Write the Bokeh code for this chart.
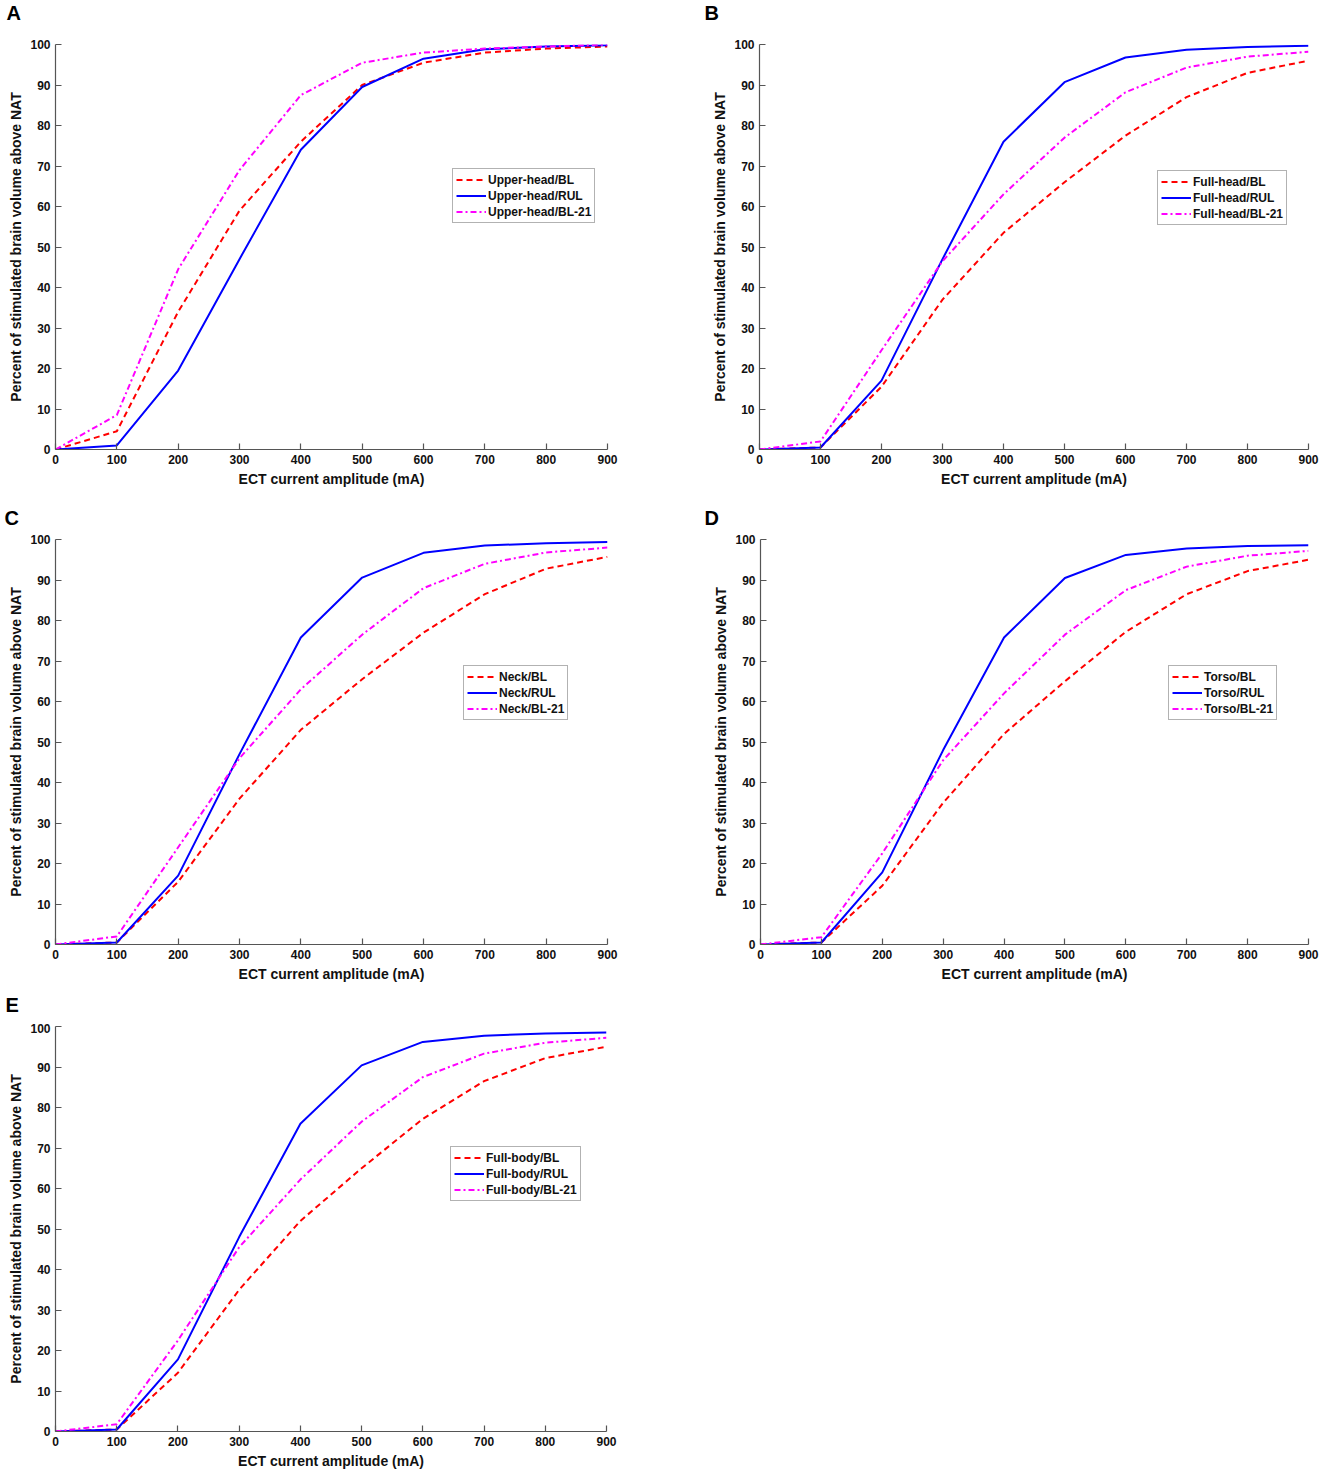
from bokeh.plotting import figure
from bokeh.models import Range1d, FixedTicker, Legend, LegendItem, Label
from bokeh.layouts import column, row
from bokeh.embed import file_html
from bokeh.resources import INLINE

current_mA = [0, 100, 200, 300, 400, 500, 600, 700, 800, 900]

# Panel A: Upper-head
upper_bl = [0, 4.5, 34, 59, 76, 90, 95.5, 98, 99, 99.5]
upper_rul = [0, 1.0, 19.5, 47, 74, 89.5, 96.5, 98.8, 99.5, 99.8]
upper_bl21 = [0, 8.5, 44.5, 69, 87.5, 95.5, 98, 99, 99.5, 100]

# Panel B: Full-head
fullhead_bl = [0, 0.5, 15.5, 37, 53.5, 66, 77.5, 87, 93, 96]
fullhead_rul = [0, 0.5, 17, 47, 76, 90.7, 96.8, 98.7, 99.4, 99.7]
fullhead_bl21 = [0, 2, 24.5, 46.5, 63, 77, 88.2, 94.3, 97, 98.2]

# Panel C: Neck
neck_bl = [0, 0.5, 15.5, 36, 53, 65.5, 77, 86.5, 92.8, 95.7]
neck_rul = [0, 0.5, 17, 47, 75.8, 90.6, 96.7, 98.5, 99.1, 99.4]
neck_bl21 = [0, 2, 24, 46, 63, 76.5, 88, 94, 96.8, 98]

# Panel D: Torso
torso_bl = [0, 0.5, 14.5, 35, 52, 65, 77.2, 86.5, 92.2, 95]
torso_rul = [0, 0.5, 17.8, 48, 75.8, 90.5, 96.2, 97.8, 98.4, 98.6]
torso_bl21 = [0, 1.8, 22.5, 45.5, 62, 76.5, 87.5, 93.3, 96, 97.2]

# Panel E: Full-body
body_bl = [0, 0.5, 14.5, 35, 52, 65, 77.2, 86.5, 92.2, 95]
body_rul = [0, 0.5, 17.8, 48, 76, 90.4, 96.2, 97.7, 98.3, 98.5]
body_bl21 = [0, 1.8, 22.5, 45.5, 62.2, 76.5, 87.5, 93.3, 96, 97.2]

x_ticks = [0, 100, 200, 300, 400, 500, 600, 700, 800, 900]
y_ticks = [0, 10, 20, 30, 40, 50, 60, 70, 80, 90, 100]

FONT = "Liberation Sans"
STRIP_H = 30


def letter_strip(letter, width, lx, ltop):
    s = figure(width=width, height=STRIP_H, output_backend="svg", toolbar_location=None,
               x_range=Range1d(0, width), y_range=Range1d(0, STRIP_H),
               x_axis_location=None, y_axis_location=None,
               min_border_left=0, min_border_right=0, min_border_top=0, min_border_bottom=0,
               background_fill_color="white", border_fill_color="white")
    s.outline_line_color = None
    s.grid.visible = False
    s.add_layout(Label(x=lx, y=STRIP_H - ltop, text=letter, text_font=FONT,
                       text_font_size="20px", text_font_style="bold",
                       text_color="#000000", text_baseline="top", text_align="left"))
    return s


def make_panel(prefix, bl, rul, bl21, fw, fh, bl_, bt, br, bb, leg_x, leg_y):
    p = figure(frame_width=fw, frame_height=fh, output_backend="svg",
               toolbar_location=None, x_range=Range1d(0, 900), y_range=Range1d(0, 100),
               min_border_left=bl_, min_border_top=bt, min_border_right=br,
               min_border_bottom=bb, background_fill_color="white",
               border_fill_color="white")
    p.outline_line_color = None
    p.grid.visible = False
    for ax in (p.xaxis[0], p.yaxis[0]):
        ax.major_tick_in = 6
        ax.major_tick_out = 0
        ax.minor_tick_in = 0
        ax.minor_tick_out = 0
        ax.axis_line_color = "#555555"
        ax.axis_line_width = 1.2
        ax.major_tick_line_color = "#555555"
        ax.major_tick_line_width = 1.2
        ax.major_label_text_font = FONT
        ax.major_label_text_font_size = "12px"
        ax.major_label_text_font_style = "bold"
        ax.major_label_text_color = "#111111"
        ax.axis_label_text_font = FONT
        ax.axis_label_text_font_size = "14px"
        ax.axis_label_text_font_style = "bold"
        ax.axis_label_text_color = "#111111"
    p.xaxis.major_label_standoff = 5
    p.xaxis.axis_label_standoff = 4
    p.yaxis.major_label_standoff = 5
    p.yaxis.axis_label_standoff = 3
    p.xaxis.ticker = FixedTicker(ticks=x_ticks)
    p.yaxis.ticker = FixedTicker(ticks=y_ticks)
    p.xaxis.axis_label = "ECT current amplitude (mA)"
    p.yaxis.axis_label = "Percent of stimulated brain volume above NAT"

    r1 = p.line(current_mA, bl, line_color="#ff0000", line_width=2, line_dash="6 4")
    r2 = p.line(current_mA, rul, line_color="#0000ff", line_width=2)
    r3 = p.line(current_mA, bl21, line_color="#ff00ff", line_width=2, line_dash="6 3 2 3")

    leg = Legend(items=[LegendItem(label=prefix + "/BL", renderers=[r1]),
                        LegendItem(label=prefix + "/RUL", renderers=[r2]),
                        LegendItem(label=prefix + "/BL-21", renderers=[r3])],
                 location=(leg_x, leg_y))
    leg.label_text_font = FONT
    leg.label_text_font_size = "12px"
    leg.label_text_font_style = "bold"
    leg.label_text_color = "#111111"
    leg.glyph_width = 30
    leg.glyph_height = 15
    leg.label_height = 15
    leg.label_standoff = 2
    leg.spacing = 1
    leg.padding = 3
    leg.margin = 0
    leg.border_line_color = "#666666"
    leg.border_line_width = 1.5
    leg.background_fill_color = "white"
    leg.background_fill_alpha = 1
    p.add_layout(leg, "center")
    return p


WL = 702
WR = 617

sA = letter_strip("A", WL, 6, 1.5)
sB = letter_strip("B", WR, 2, 1.5)
sC = letter_strip("C", WL, 4, 3)
sD = letter_strip("D", WR, 2, 3)
sE = letter_strip("E", WL, 5, 0.5)

pA = make_panel("Upper-head", upper_bl, upper_rul, upper_bl21,
                552, 405, 55, 44 - STRIP_H, 95, 54, 397, 226)
pB = make_panel("Full-head", fullhead_bl, fullhead_rul, fullhead_bl21,
                549, 405, 57, 40 - STRIP_H, 11, 58, 398, 224)
pC = make_panel("Neck", neck_bl, neck_rul, neck_bl21,
                552, 405, 55, 36 - STRIP_H, 95, 49, 408, 224)
pD = make_panel("Torso", torso_bl, torso_rul, torso_bl21,
                548, 405, 58, 35 - STRIP_H, 11, 50, 408, 224)
pE = make_panel("Full-body", body_bl, body_rul, body_bl21,
                551, 405, 55, 33 - STRIP_H, 96, 32, 395, 230)

layout = column(
    row(sA, sB, spacing=0), row(pA, pB, spacing=0),
    row(sC, sD, spacing=0), row(pC, pD, spacing=0),
    row(sE, spacing=0), row(pE, spacing=0),
    spacing=0)

open("out.html", "w").write(file_html(layout, INLINE))
